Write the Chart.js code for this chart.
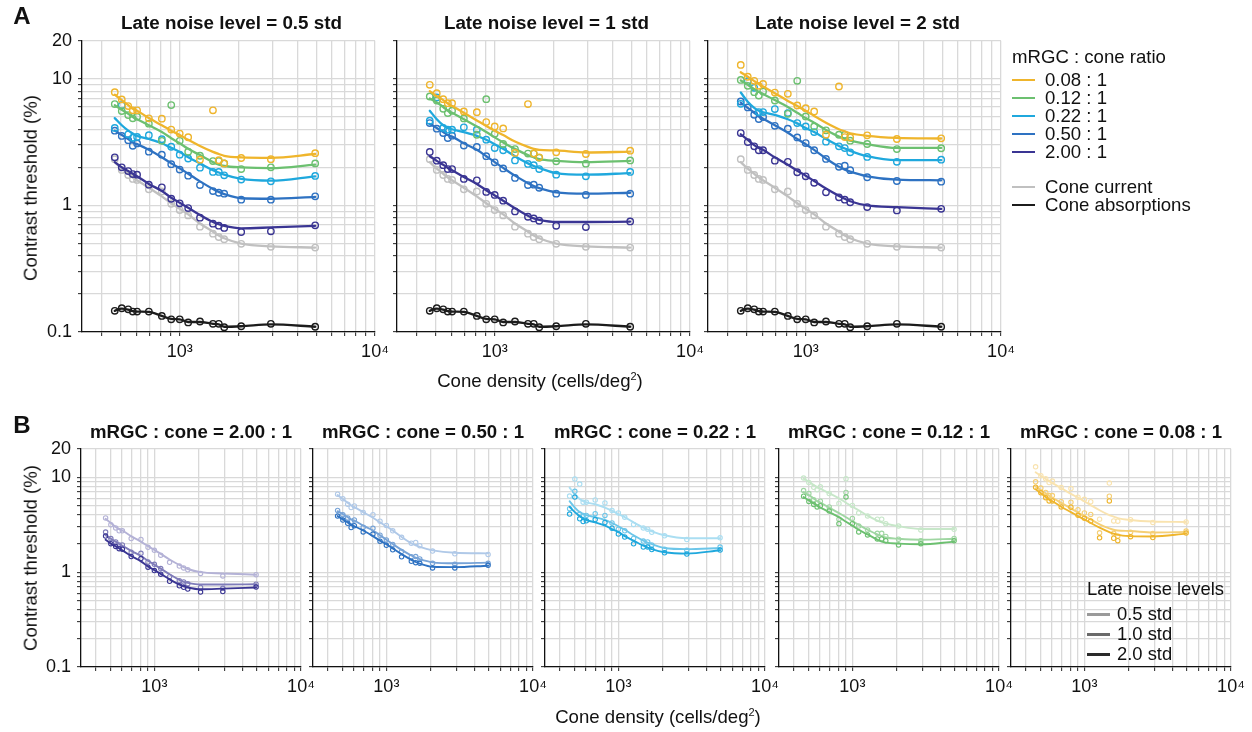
<!DOCTYPE html>
<html><head><meta charset="utf-8">
<script src="https://cdn.jsdelivr.net/npm/chart.js@4.4.0/dist/chart.umd.min.js"></script>
<style>
body{margin:0;background:#fff;font-family:"Liberation Sans",Arial,sans-serif;}
#root{position:relative;width:1252px;height:732px;overflow:hidden;background:#fff;}
canvas{position:absolute;}
.t{position:absolute;white-space:nowrap;color:#111;line-height:1;}
.ln{position:absolute;height:0;}
</style></head>
<body><div id="root"></div>
<script>
// ---------------- DATA ----------------
const coneDensity = [465, 505, 545, 575, 605, 695, 810, 905, 1000, 1105, 1270, 1480, 1585, 1690, 2065, 2930, 4940];
const ratioLabels = ['0.08 : 1', '0.12 : 1', '0.22 : 1', '0.50 : 1', '2.00 : 1'];
const noiseTitles = ['Late noise level = 0.5 std', 'Late noise level = 1 std', 'Late noise level = 2 std'];
const noiseLegend = ['0.5 std', '1.0 std', '2.0 std'];
const xTickValues = [400, 500, 600, 700, 800, 900, 1000, 2000, 3000, 4000, 5000, 6000, 7000, 8000, 9000, 10000];
const yTickValues = [0.1, 0.2, 0.3, 0.4, 0.5, 0.6, 0.7, 0.8, 0.9, 1, 2, 3, 4, 5, 6, 7, 8, 9, 10, 20];
const yLabelled = [0.1, 1, 10, 20];

// late noise 0.5 std — measured thresholds (%)
const meas05_008 = [7.86, 6.88, 6.10, 5.64, 5.64, 4.88, 4.85, 3.98, 3.70, 3.46, 2.30, 5.64, 2.28, 2.15, 2.37, 2.32, 2.59];
const meas05_012 = [6.32, 5.57, 5.18, 4.88, 5.03, 4.43, 3.24, 6.21, 3.24, 2.66, 2.47, 2.24, 2.24, 2.15, 1.94, 2.00, 2.15];
const meas05_022 = [4.10, 6.20, 3.65, 3.42, 3.48, 3.59, 3.34, 2.91, 2.52, 2.35, 1.99, 1.84, 1.84, 1.73, 1.60, 1.55, 1.71];
const meas05_050 = [3.90, 3.54, 3.28, 2.96, 3.09, 2.66, 2.52, 2.12, 1.92, 1.72, 1.45, 1.30, 1.26, 1.24, 1.11, 1.11, 1.18];
const meas05_200 = [2.40, 2.00, 1.87, 1.77, 1.75, 1.46, 1.39, 1.13, 1.04, 0.953, 0.80, 0.718, 0.692, 0.664, 0.617, 0.625, 0.697];
// late noise 0.5 std — fitted curves
const fit05_008 = [7.5, 6.8, 6.2, 5.8, 5.6, 4.9, 4.3, 3.9, 3.6, 3.3, 2.95, 2.65, 2.55, 2.47, 2.4, 2.38, 2.55];
const fit05_012 = [6.2, 5.7, 5.3, 5.0, 4.8, 4.3, 3.8, 3.4, 3.1, 2.8, 2.5, 2.2, 2.1, 2.05, 2.0, 1.97, 2.1];
const fit05_022 = [4.9, 4.3, 3.9, 3.7, 3.55, 3.35, 3.1, 2.85, 2.65, 2.4, 2.15, 1.9, 1.82, 1.75, 1.62, 1.57, 1.70];
const fit05_050 = [3.9, 3.6, 3.35, 3.15, 3.05, 2.75, 2.4, 2.15, 1.97, 1.78, 1.55, 1.35, 1.28, 1.23, 1.14, 1.13, 1.17];
const fit05_200 = [2.2, 2.0, 1.87, 1.78, 1.70, 1.48, 1.30, 1.15, 1.05, 0.96, 0.84, 0.74, 0.71, 0.69, 0.66, 0.67, 0.69];

// late noise 1 std — measured
const meas1_008 = [8.97, 7.71, 6.92, 6.43, 6.43, 5.53, 5.46, 4.56, 4.21, 4.06, 2.60, 6.32, 2.57, 2.40, 2.63, 2.55, 2.71];
const meas1_012 = [7.26, 6.75, 5.80, 5.37, 5.60, 4.87, 3.62, 6.92, 3.69, 3.06, 2.79, 2.57, 2.57, 2.38, 2.23, 2.14, 2.27];
const meas1_022 = [4.67, 7.13, 4.10, 3.97, 3.97, 4.14, 3.97, 3.31, 2.84, 2.73, 2.27, 2.13, 2.08, 1.94, 1.75, 1.70, 1.84];
const meas1_050 = [4.48, 4.04, 3.73, 3.41, 3.56, 2.97, 2.90, 2.45, 2.19, 1.96, 1.65, 1.45, 1.46, 1.38, 1.24, 1.21, 1.24];
const meas1_200 = [2.65, 2.26, 2.08, 1.94, 1.94, 1.62, 1.58, 1.28, 1.21, 1.09, 0.897, 0.814, 0.790, 0.757, 0.691, 0.675, 0.748];
// late noise 1 std — fitted
const fit1_008 = [8.0, 7.3, 6.8, 6.4, 6.1, 5.4, 4.7, 4.25, 3.9, 3.6, 3.2, 2.9, 2.8, 2.75, 2.72, 2.62, 2.66];
const fit1_012 = [7.0, 6.5, 6.0, 5.6, 5.4, 4.8, 4.2, 3.8, 3.45, 3.15, 2.8, 2.5, 2.4, 2.32, 2.25, 2.2, 2.25];
const fit1_022 = [5.6, 4.8, 4.3, 4.1, 4.0, 3.8, 3.55, 3.3, 3.05, 2.8, 2.45, 2.15, 2.05, 1.98, 1.8, 1.75, 1.8];
const fit1_050 = [4.4, 4.1, 3.8, 3.6, 3.5, 3.1, 2.75, 2.45, 2.2, 1.98, 1.72, 1.5, 1.42, 1.37, 1.27, 1.24, 1.26];
const fit1_200 = [2.45, 2.25, 2.1, 1.98, 1.9, 1.68, 1.48, 1.32, 1.2, 1.09, 0.95, 0.83, 0.79, 0.77, 0.74, 0.74, 0.745];

// late noise 2 std — measured
const meas2_008 = [12.9, 10.4, 9.65, 8.81, 9.13, 7.80, 7.62, 6.17, 5.87, 5.53, 3.62, 8.71, 3.47, 3.45, 3.58, 3.35, 3.39];
const meas2_012 = [9.82, 8.81, 7.85, 7.39, 7.95, 6.75, 5.30, 9.65, 5.05, 4.21, 3.92, 3.62, 3.62, 3.25, 3.06, 2.79, 2.83];
const meas2_022 = [6.35, 9.60, 8.50, 5.47, 5.47, 5.77, 5.37, 4.48, 4.21, 3.80, 3.19, 2.93, 2.84, 2.63, 2.42, 2.21, 2.30];
const meas2_050 = [6.63, 5.95, 5.21, 4.81, 4.99, 4.26, 4.04, 3.45, 3.11, 2.73, 2.33, 2.02, 2.06, 1.90, 1.67, 1.56, 1.54];
const meas2_200 = [3.73, 3.17, 2.93, 2.73, 2.73, 2.26, 2.21, 1.83, 1.70, 1.51, 1.27, 1.16, 1.11, 1.06, 0.970, 0.913, 0.941];
// late noise 2 std — fitted
const fit2_008 = [11.3, 10.4, 9.6, 9.1, 8.7, 7.7, 6.7, 6.1, 5.6, 5.1, 4.5, 4.0, 3.85, 3.72, 3.55, 3.42, 3.38];
const fit2_012 = [9.7, 9.0, 8.3, 7.9, 7.6, 6.8, 6.0, 5.4, 4.9, 4.5, 3.95, 3.5, 3.35, 3.25, 3.05, 2.85, 2.85];
const fit2_022 = [7.8, 6.6, 5.9, 5.6, 5.45, 5.2, 4.8, 4.45, 4.1, 3.8, 3.35, 2.95, 2.82, 2.7, 2.45, 2.28, 2.28];
const fit2_050 = [6.5, 5.9, 5.4, 5.05, 4.85, 4.3, 3.75, 3.35, 3.05, 2.75, 2.35, 2.02, 1.92, 1.85, 1.7, 1.6, 1.58];
const fit2_200 = [3.65, 3.3, 3.0, 2.85, 2.75, 2.4, 2.1, 1.88, 1.72, 1.56, 1.36, 1.19, 1.13, 1.08, 1.0, 0.97, 0.94];

// cone current & cone absorptions (same in all noise panels)
const measCurrent = [2.32, 1.91, 1.74, 1.62, 1.59, 1.34, 1.29, 1.03, 0.919, 0.834, 0.680, 0.598, 0.563, 0.541, 0.497, 0.471, 0.465];
const fitCurrent  = [2.2, 1.95, 1.78, 1.66, 1.58, 1.38, 1.18, 1.04, 0.94, 0.85, 0.72, 0.62, 0.58, 0.55, 0.50, 0.475, 0.465];
const measAbsorb  = [0.147, 0.154, 0.151, 0.145, 0.145, 0.145, 0.134, 0.126, 0.126, 0.119, 0.121, 0.116, 0.116, 0.109, 0.111, 0.116, 0.110];
const fitAbsorb   = [0.147, 0.153, 0.150, 0.146, 0.145, 0.144, 0.134, 0.127, 0.126, 0.120, 0.120, 0.116, 0.115, 0.110, 0.111, 0.115, 0.110];

// ---------------- STYLE ----------------
const FONT = "'Liberation Sans', Arial, Helvetica, sans-serif";
const ratioColors = ['#efb52c', '#6cc070', '#1fa8dd', '#2e72c2', '#3a3593'];
const currentColor = '#c0c0c0';
const absorbColor = '#1c1c1c';
const gridColor = '#d9d9d9';

const measByNoise = [
  [meas05_008, meas05_012, meas05_022, meas05_050, meas05_200],
  [meas1_008, meas1_012, meas1_022, meas1_050, meas1_200],
  [meas2_008, meas2_012, meas2_022, meas2_050, meas2_200]
];
const fitByNoise = [
  [fit05_008, fit05_012, fit05_022, fit05_050, fit05_200],
  [fit1_008, fit1_012, fit1_022, fit1_050, fit1_200],
  [fit2_008, fit2_012, fit2_022, fit2_050, fit2_200]
];

const root = document.getElementById('root');

function mix(hex, t) {
  const n = parseInt(hex.slice(1), 16);
  const r = (n >> 16) & 255, g = (n >> 8) & 255, b = n & 255;
  const f = v => Math.round(v + (255 - v) * t);
  return `rgb(${f(r)},${f(g)},${f(b)})`;
}
function pts(vals) { return coneDensity.map((x, i) => ({ x, y: vals[i] })); }
function measDs(vals, color, r, bw) {
  return { data: pts(vals), showLine: false, pointRadius: r, pointHoverRadius: r, pointBorderWidth: bw,
           pointBorderColor: color, pointBackgroundColor: 'rgba(255,255,255,0)', borderColor: color, backgroundColor: 'rgba(0,0,0,0)' };
}
function fitDs(vals, color, w) {
  return { data: pts(vals), showLine: true, pointRadius: 0, borderColor: color, borderWidth: w,
           cubicInterpolationMode: 'monotone', backgroundColor: 'rgba(0,0,0,0)', borderCapStyle: 'round', borderJoinStyle: 'round' };
}

function text(str, x, y, o = {}) {
  const d = document.createElement('div');
  d.className = 't';
  d.innerHTML = str;
  d.style.fontSize = (o.size || 18) + 'px';
  if (o.bold) d.style.fontWeight = 'bold';
  d.style.left = x + 'px'; d.style.top = y + 'px';
  const ax = o.anchor === 'left' ? '0' : '-50%';
  d.style.transform = `translate(${ax},-50%)` + (o.rot ? ' rotate(-90deg)' : '');
  root.appendChild(d);
}
function legendLine(x, y, w, color, lw) {
  const d = document.createElement('div');
  d.className = 'ln';
  d.style.left = x + 'px'; d.style.top = (y - lw / 2) + 'px'; d.style.width = w + 'px';
  d.style.borderTop = lw + 'px solid ' + color;
  root.appendChild(d);
}

function makeChart(L, T, W, H, datasets, showY) {
  const PADL = 70, PADT = 16, PADR = 26, PADB = 45;
  const c = document.createElement('canvas');
  c.width = W + PADL + PADR; c.height = H + PADT + PADB;
  c.style.width = c.width + 'px'; c.style.height = c.height + 'px';
  c.style.left = (L - PADL) + 'px'; c.style.top = (T - PADT) + 'px';
  root.appendChild(c);
  const ch = new Chart(c, {
    type: 'scatter',
    data: { datasets },
    options: {
      responsive: false, animation: false, devicePixelRatio: 1, events: [],
      layout: { padding: { top: PADT, right: PADR, left: 0, bottom: 0 } },
      plugins: { legend: { display: false }, tooltip: { enabled: false } },
      scales: {
        x: {
          type: 'logarithmic', min: 316, max: 10000,
          afterFit: s => { s.height = PADB; },
          afterBuildTicks: s => { s.ticks = xTickValues.map(v => ({ value: v })); },
          ticks: { autoSkip: false, maxRotation: 0, minRotation: 0, padding: 5, color: '#111',
                   font: { family: FONT, size: 18 },
                   callback: v => v === 1000 ? '10³' : (v === 10000 ? '10⁴' : '') },
          grid: { color: gridColor, lineWidth: 1.3, drawTicks: true, tickLength: 4, tickColor: '#222', tickWidth: 1 },
          border: { display: true, color: '#111', width: 1.3 }
        },
        y: {
          type: 'logarithmic', min: 0.1, max: 20,
          afterFit: s => { s.width = PADL; },
          afterBuildTicks: s => { s.ticks = yTickValues.map(v => ({ value: v })); },
          ticks: { autoSkip: false, padding: 6, color: '#111', font: { family: FONT, size: 18 },
                   callback: v => (showY && yLabelled.includes(v)) ? String(v) : '' },
          grid: { color: gridColor, lineWidth: 1.3, drawTicks: true, tickLength: 4, tickColor: '#222', tickWidth: 1 },
          border: { display: true, color: '#111', width: 1.3 }
        }
      }
    }
  });
  const ca = ch.chartArea;
  c.style.left = (L - ca.left) + 'px';
  c.style.top = (T - ca.top) + 'px';
  return ch;
}

// ---------------- PANEL A ----------------
const aLefts = [82, 397, 708];
const aW = 293, aTop = 41, aH = 292;
for (let n = 0; n < 3; n++) {
  const ds = [];
  for (let k = 0; k < 5; k++) {
    ds.push(fitDs(fitByNoise[n][k], ratioColors[k], 2.3));
    ds.push(measDs(measByNoise[n][k], ratioColors[k], 3.2, 1.4));
  }
  ds.push(fitDs(fitCurrent, currentColor, 2.3));
  ds.push(measDs(measCurrent, currentColor, 3.2, 1.4));
  ds.push(fitDs(fitAbsorb, absorbColor, 2.3));
  ds.push(measDs(measAbsorb, absorbColor, 3.2, 1.4));
  makeChart(aLefts[n], aTop, aW, aH, ds, n === 0);
  text(noiseTitles[n], aLefts[n] + aW / 2 + 3, 23, { bold: true, size: 18.8 });
}
text('A', 22, 16, { bold: true, size: 24 });
text('Contrast threshold (%)', 31, 188, { rot: true, size: 18.6 });
text('Cone density (cells/deg<sup style="font-size:11px">2</sup>)', 540, 381, { size: 18.6 });

// legend A
text('mRGC : cone ratio', 1012, 57, { anchor: 'left', size: 18.6 });
const legY = [80, 98, 116, 134, 152];
for (let k = 0; k < 5; k++) {
  legendLine(1012, legY[k], 23, ratioColors[k], 2.5);
  text(ratioLabels[k], 1045, legY[k], { anchor: 'left', size: 18.6 });
}
legendLine(1012, 187, 23, currentColor, 2.5);
text('Cone current', 1045, 187, { anchor: 'left', size: 18.6 });
legendLine(1012, 205, 23, absorbColor, 2.5);
text('Cone absorptions', 1045, 205, { anchor: 'left', size: 18.6 });

// ---------------- PANEL B ----------------
const bOrder = [4, 3, 2, 1, 0];  // 2.00, 0.50, 0.22, 0.12, 0.08
const bLefts = [81, 313, 545, 779, 1011];
const bW = 220, bTop = 449, bH = 219;
const shade = [0, 0.35, 0.62]; // dark, medium, light
const noiseIdx = [0, 1, 2];
for (let p = 0; p < 5; p++) {
  const k = bOrder[p];
  const ds = [];
  for (const n of noiseIdx) {
    const col = shade[n] === 0 ? ratioColors[k] : mix(ratioColors[k], shade[n]);
    ds.push(fitDs(fitByNoise[n][k], col, 1.9));
    ds.push(measDs(measByNoise[n][k], col, 2.2, 1.1));
  }
  makeChart(bLefts[p], bTop, bW, bH, ds, p === 0);
  text('mRGC : cone = ' + ratioLabels[k], bLefts[p] + bW / 2, 432, { bold: true, size: 18.6 });
}
text('B', 22, 425, { bold: true, size: 24 });
text('Contrast threshold (%)', 31, 558, { rot: true, size: 18.6 });
text('Cone density (cells/deg<sup style="font-size:11px">2</sup>)', 658, 717, { size: 18.6 });

// legend B
text('Late noise levels', 1087, 589, { anchor: 'left', size: 18.4 });
const bLegColors = ['#9a9a9a', '#6a6a6a', '#2a2a2a'];
const bLegY = [614, 634, 654];
for (let i = 0; i < 3; i++) {
  legendLine(1087, bLegY[i], 23, bLegColors[i], 3);
  text(noiseLegend[i], 1117, bLegY[i], { anchor: 'left', size: 18.4 });
}
</script>
</body></html>
